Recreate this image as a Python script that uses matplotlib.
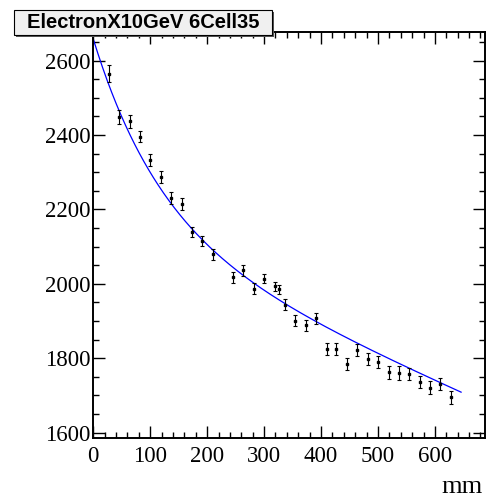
import numpy as np
import matplotlib
matplotlib.use('Agg')
import matplotlib.pyplot as plt
from matplotlib.patches import Rectangle
from matplotlib.ticker import MultipleLocator

# data points (position in mm, response, error)
xPos = [27, 45, 64, 82, 100, 119, 136.5, 155, 173, 191, 210,
        246, 263, 282, 300, 318.5, 327, 337, 355, 373, 391,
        410, 427, 445.5, 463.6, 482, 500.5, 518.7, 537, 555, 573.6,
        591.7, 609, 628]
yVal = [2565, 2448, 2437, 2396, 2333, 2287, 2231, 2214, 2140, 2115, 2079,
        2018, 2036, 1987, 2014, 1993, 1985, 1944, 1901, 1889, 1907,
        1825, 1825, 1785, 1823, 1798, 1790, 1762, 1760, 1758, 1736,
        1721, 1730, 1695]
yErr = [22, 18, 18, 16, 16, 16, 16, 16, 14, 14, 14,
        15, 14, 14, 12, 12, 13, 15, 15, 15, 14,
        17, 17, 16, 16, 16, 16, 18, 18, 17, 17,
        17, 16, 18]

# fit function : p0 + p1*exp(-x/p2) + p3*x
fitPar = [2143.9, 514.0, 120.0, -0.677]
fitRange = [0, 646]

title = 'ElectronX10GeV 6Cell35'
xTitle = 'mm'


def fitFunc(x, p):
    return p[0] + p[1] * np.exp(-x / p[2]) + p[3] * x


W, H = 491, 499
fig = plt.figure(figsize=(W / 100, H / 100), dpi=100)
ax = fig.add_axes([93.3 / W, 1 - 437.7 / H, (485 - 93.3) / W, (437.7 - 32) / H])

xf = np.linspace(fitRange[0], fitRange[1], 400)
ax.plot(xf, fitFunc(xf, fitPar), color='#0000ff', lw=0.9, zorder=2)
ax.errorbar(xPos, yVal, yerr=yErr, fmt='s', ms=1.8, color='black', ecolor='black',
            elinewidth=0.8, capsize=1.5, capthick=0.8, zorder=3)

ax.set_xlim(0, 688)
ax.set_ylim(1586.5, 2677)

ax.xaxis.set_major_locator(MultipleLocator(100))
ax.xaxis.set_minor_locator(MultipleLocator(20))
ax.yaxis.set_major_locator(MultipleLocator(200))
ax.yaxis.set_minor_locator(MultipleLocator(50))
ax.tick_params(which='both', direction='in', top=True, right=True, width=1)
ax.tick_params(which='major', length=8.5)
ax.tick_params(which='minor', length=4.3)
ax.tick_params(axis='x', pad=6)
ax.tick_params(axis='y', pad=2)
for lab in ax.get_xticklabels() + ax.get_yticklabels():
    lab.set_fontfamily('Liberation Serif')
    lab.set_fontsize(16.5)
for sp in ax.spines.values():
    sp.set_linewidth(1.4)

fig.text(483 / W, 1 - 493 / H, xTitle, ha='right', va='baseline',
         fontsize=19, family='Liberation Serif')

# title box with ROOT-like shadow
x0, x1, y0, y1 = 14 / W, 272 / W, 1 - 35 / H, 1 - 10 / H
fig.patches.append(Rectangle((x0 + 2 / W, y0 - 2 / H), x1 - x0, y1 - y0, transform=fig.transFigure,
                             facecolor='#555555', edgecolor='none', zorder=5))
fig.patches.append(Rectangle((x0, y0), x1 - x0, y1 - y0, transform=fig.transFigure,
                             facecolor='#f0f0f0', edgecolor='black', lw=0.8, zorder=6))
fig.text((x0 + x1) / 2, (y0 + y1) / 2, title, ha='center', va='center', fontsize=14.5,
         fontweight='bold', family='Liberation Sans', zorder=7)

fig.savefig('out.png', dpi=100)
